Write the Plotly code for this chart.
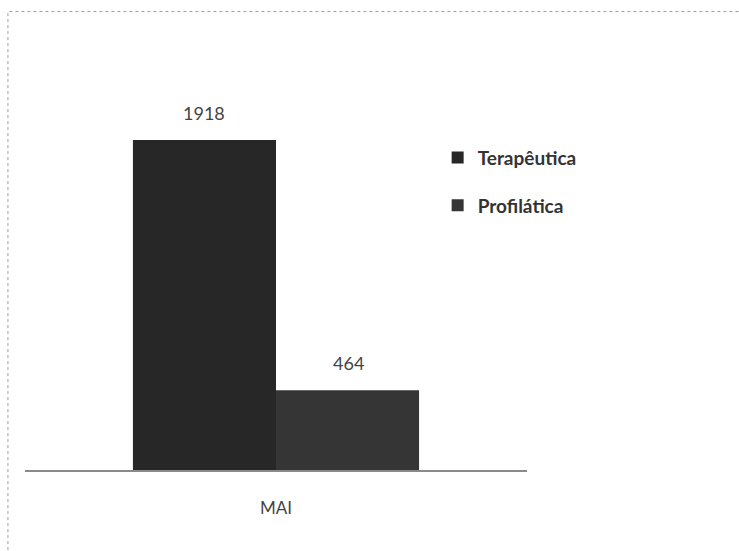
import plotly.graph_objects as go

# dados
categorias = ['MAI']
series = ['Terapêutica', 'Profilática']
valores = [1918, 464]
cores = ['#272727', '#353535']

fig = go.Figure()

for i in range(len(series)):
    fig.add_trace(go.Bar(
        x=categorias, y=[valores[i]], name=series[i],
        marker=dict(color=cores[i], line=dict(width=0)),
        legendgroup=series[i], offsetgroup=str(i),
    ))
    # rótulo de dados acima de cada barra
    fig.add_annotation(
        x=categorias[0], y=valores[i], text=str(valores[i]),
        xshift=(-72 if i == 0 else 72), yshift=27, showarrow=False,
        font=dict(family='Lato', size=18, color='#444444'),
    )

fig.update_layout(
    width=739, height=551,
    plot_bgcolor='white', paper_bgcolor='white',
    barmode='group', bargap=0.43, bargroupgap=0,
    margin=dict(l=25, r=212, t=57, b=81),
    font=dict(family='Lato', color='#444444'),
    legend=dict(x=0.822, y=0.802, xanchor='left', yanchor='top',
                font=dict(family='Lato', size=19, color='#333333', weight='bold'),
                tracegroupgap=20, traceorder='grouped',
                bgcolor='rgba(0,0,0,0)'),
    showlegend=True,
    xaxis=dict(showline=True, linecolor='#8a8a8a', linewidth=2,
               ticks='', tickfont=dict(family='Lato', size=17, color='#444444'),
               ticklabelstandoff=22),
    yaxis=dict(range=[0, 2400], visible=False, showgrid=False),
    shapes=[dict(type='rect', xref='paper', yref='paper',
                 x0=-0.034, x1=1.5, y0=-0.3, y1=1.11,
                 line=dict(color='#9a9a9a', width=1, dash='dot'))],
)

fig.write_html("out.html", config={'displayModeBar': False},
               post_script="document.body.style.margin='0px';")
